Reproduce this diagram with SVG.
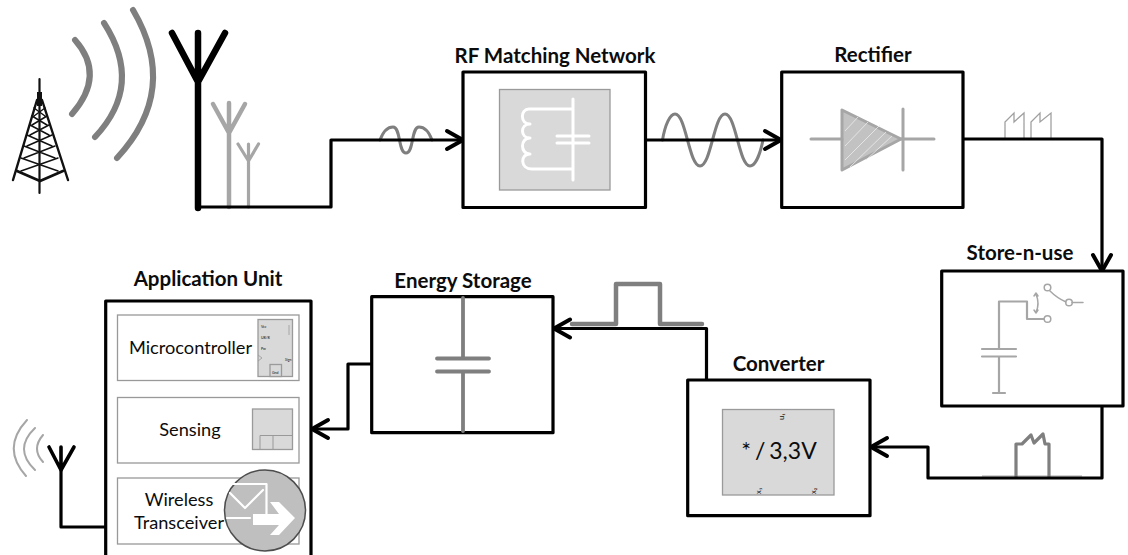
<svg xmlns="http://www.w3.org/2000/svg" width="1128" height="555" viewBox="0 0 1128 555">
<style>
text{font-family:Lato,"Open Sans","Liberation Sans",sans-serif;fill:#0c0c0c}
.t{font-weight:700;font-size:20.500px;text-anchor:middle}
.l{font-size:18.200px;text-anchor:middle}
.box{fill:#fff;stroke:#000;stroke-width:3.200;stroke-linejoin:round}
.sub{fill:#fff;stroke:#999;stroke-width:1.300}
.in{fill:#d9d9d9;stroke:#9a9a9a;stroke-width:1.300}
.c{fill:none;stroke:#000;stroke-width:3.200;stroke-linejoin:round}
.g{fill:none;stroke:#7f7f7f;stroke-linecap:round;stroke-linejoin:round}
.lg{fill:none;stroke:#a6a6a6;stroke-linecap:round;stroke-linejoin:round}
.w{fill:none;stroke:#fff;stroke-linecap:round;stroke-linejoin:round}
.mini{font-size:3.500px}
</style>
<defs>
<marker id="arr" markerUnits="userSpaceOnUse" markerWidth="22" markerHeight="24" refX="19" refY="12" orient="auto">
<path d="M3 3L19 12L3 21" fill="none" stroke="#000" stroke-width="4" stroke-linecap="round" stroke-linejoin="round"/>
</marker>
</defs>

<g id="tower" fill="none" stroke="#111" stroke-linecap="round" stroke-linejoin="round">
<path d="M39.500 79V193" stroke-width="2.200"/>
<path d="M39.500 92V106" stroke-width="5" stroke-linecap="butt"/>
<path d="M37 100L13 180M42 100L68 180" stroke-width="2.400"/>
<path d="M17 171L40 181L63 171" stroke-width="2.800"/>
<path d="M21 158L58 171M58 158L21 171M24 146L55 158M55 146L24 158M27 135L52 146M52 135L27 146M30 125L49 135M49 125L30 135M32 116L47 125M47 116L32 125M34 108L45 116M45 108L34 116" stroke-width="1.500"/>
</g>
<g id="waves" class="g" stroke-width="6">
<path d="M75 40Q106 75 72 114"/>
<path d="M104 23Q144 85 95 137"/>
<path d="M133 10Q180 90 117 158"/>
</g>
<g id="rx-antenna">
<path class="lg" stroke-width="4.500" d="M229 207V103M213 104L229 133L245 104"/>
<path class="lg" stroke-width="3.200" d="M248.500 207V144M238 144L248.500 161L258.500 144"/>
<path fill="none" stroke="#000" stroke-width="6.500" stroke-linecap="round" stroke-linejoin="round" d="M198 208V33M172 33L198 82L225 33"/>
</g>

<g id="signals">
<path class="g" stroke-width="3" d="M380 140C383 132 388 127 393 127C401 127 398 153 406 153C414 153 411 127 419 127C424 127 429 132 432 140"/>
<path class="g" stroke-width="3" d="M662.500 140C665 125 670 114 675 114C686 114 689 166 700 166C711 166 714 114 725 114C736 114 739 166 750 166C755 166 760 155 763 140"/>
<path fill="none" stroke="#a0a0a0" stroke-width="1.300" d="M1005 138V122L1014 113V122L1024 113V138M1031 138V122L1040 113V122L1051 113V138"/>
<path fill="none" stroke="#a6a6a6" stroke-width="1.200" d="M982 476H1082"/>
<path fill="none" stroke="#7f7f7f" stroke-width="3.200" stroke-linejoin="round" d="M1016 477V444H1022L1031 435L1034 443L1043 434L1045 444H1049V477"/>
<path class="g" stroke-width="4.500" d="M572 324H616V284H660V324H702"/>
</g>

<g id="connectors" class="c">
<path d="M198 207H331V140H463" marker-end="url(#arr)"/>
<path d="M646 140H781" marker-end="url(#arr)"/>
<path d="M963 139H1102V271" marker-end="url(#arr)"/>
<path d="M1102 406V478H928V447H871" marker-end="url(#arr)"/>
<path d="M706.500 380V328.500H554" marker-end="url(#arr)"/>
<path d="M372 364H348V429H312" marker-end="url(#arr)"/>
<path d="M106 527H61V470"/>
</g>

<g id="rf-matching">
<text class="t" x="555" y="63">RF Matching Network</text>
<rect class="box" x="463" y="72" width="182.500" height="135.500"/>
<rect class="in" x="499.500" y="89.500" width="110.500" height="100.500"/>
<path class="w" stroke-width="3" d="M573 99V180M572 109H529C520 109 520 124 530 124C520 124 520 138 530 138C520 138 520 154 530 154C520 154 520 169 532 169H572M557 136H589M557 143H589"/>
</g>

<g id="rectifier">
<text class="t" x="873" y="62">Rectifier</text>
<rect class="box" x="781.700" y="72" width="181.300" height="135.500"/>
<path d="M842 110V170L901 139Z" fill="#c2c2c2" stroke="#a6a6a6" stroke-width="3" stroke-linejoin="round"/>
<path d="M845 131L858 117M845 146L868 122M845 160L880 125M850 167L886 132M866 160L892 136" stroke="#ececec" stroke-width="0.800" fill="none"/>
<path class="lg" stroke-width="3" d="M811 139H842M901 139H934M903 109V170"/>
</g>

<g id="store-n-use">
<text class="t" x="1020" y="260">Store-n-use</text>
<rect class="box" x="941.700" y="271" width="181.300" height="135"/>
<path class="lg" stroke-width="2.200" stroke-linecap="butt" d="M999 349V301.500H1027V319H1044M982 349H1016M982 356.500H1016M999 357V393M993 393H1005"/>
<g class="lg" stroke-width="1.500">
<circle cx="1047.500" cy="319" r="3.300" fill="#fff"/>
<circle cx="1047.500" cy="287.500" r="3.300"/>
<circle cx="1069" cy="302.500" r="3.300"/>
<path d="M1050 291Q1057 298 1066 302M1072 302.500H1083M1036 294Q1040 304 1036 312M1034 296L1036 293L1038 296M1034 310L1036 313L1038 310"/>
</g>
</g>

<g id="converter">
<text class="t" x="778.500" y="371">Converter</text>
<rect class="box" x="687.700" y="380" width="182.300" height="135.700"/>
<rect class="in" x="722.500" y="409.500" width="111.500" height="85.500"/>
<text x="779" y="459" style="font-size:23px;text-anchor:middle;word-spacing:-2px">* / 3,3V</text>
<text transform="translate(784 420) rotate(-90)" style="font-size:7.500px">u₁</text>
<text transform="translate(761 494) rotate(-90)" style="font-size:7.500px">x₁</text>
<text transform="translate(816 494) rotate(-90)" style="font-size:7.500px">x₂</text>
</g>

<g id="energy-storage">
<text class="t" x="463" y="288">Energy Storage</text>
<rect class="box" x="371.700" y="296.700" width="181.300" height="136"/>
<path class="g" stroke-width="3.800" stroke-linecap="butt" d="M463 298V358M463 372V431"/>
<path class="g" stroke-width="3.800" d="M437 358.500H489M437 371.500H489"/>
</g>

<g id="application-unit">
<text class="t" x="208" y="286">Application Unit</text>
<rect class="box" x="105.700" y="301" width="205.300" height="256"/>
<rect class="sub" x="117.500" y="315" width="181.500" height="65.500"/>
<rect class="sub" x="117.500" y="397.500" width="181.500" height="65.500"/>
<rect class="sub" x="117.500" y="478" width="181.500" height="66"/>
<text class="l" x="190.500" y="354">Microcontroller</text>
<text class="l" x="190" y="436">Sensing</text>
<text class="l" x="179" y="506">Wireless</text>
<text class="l" x="179" y="529">Transceiver</text>
<rect class="in" x="258" y="319.500" width="34.500" height="57"/>
<rect class="in" x="270" y="364.500" width="11.500" height="12"/>
<path fill="none" stroke="#999" stroke-width="0.800" d="M258 355L262 358L258 361M289 325V335"/>
<text class="mini" x="261" y="328">Vcc</text><text class="mini" x="261" y="339">UB/B</text><text class="mini" x="261" y="350">Pw</text><text class="mini" x="285" y="361">Sign</text><text class="mini" x="272" y="374">Gnd</text>
<rect class="in" x="252.500" y="409" width="40" height="40.500"/>
<path fill="none" stroke="#999" d="M260 449V435.500H292.500M273 435.500V449"/>
<circle cx="265" cy="510.500" r="40.500" fill="#bfbfbf" stroke="#4d4d4d" stroke-width="1.500"/>
<path class="w" stroke-width="2.200" stroke-linecap="butt" d="M227 484H266.500V514M230 493L245 508L263 490M227 518H250"/>
<path fill="#fff" d="M253 514H279L270 502H279L295 518L279 535H270L279 525H253Z"/>
</g>

<g id="tx-antenna">
<path fill="none" stroke="#a6a6a6" stroke-width="2" stroke-linecap="round" d="M43 435Q31 449 43 462M35 428Q13 449 35 470M27 420Q1 448 26 476"/>
<path fill="none" stroke="#000" stroke-width="3.600" stroke-linecap="round" stroke-linejoin="round" d="M49 447L61 470L74 447M61 447V470"/>
</g>
</svg>
